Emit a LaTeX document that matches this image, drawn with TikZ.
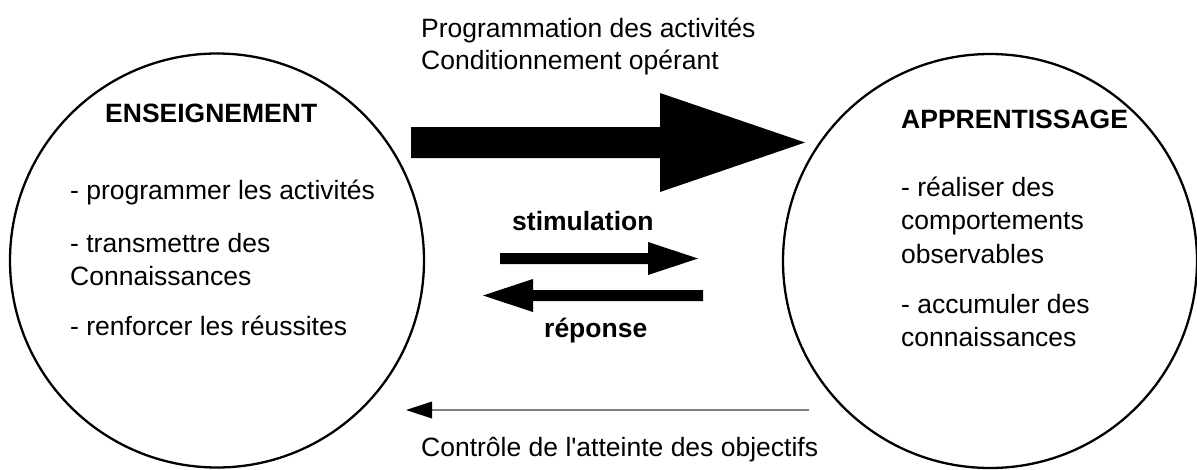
\documentclass[tikz,border=0pt]{standalone}
\usepackage{fontspec}
\setmainfont{Liberation Sans}
\newfontfamily\nomapfont{Liberation Sans}
\begin{document}
\begin{tikzpicture}[x=1pt,y=-1pt,
  txt/.style={anchor=base west, inner sep=0pt, font=\fontsize{26.5}{32}\selectfont},
  btxt/.style={anchor=base west, inner sep=0pt, font=\fontsize{26.5}{32}\selectfont\bfseries},
  ring/.style={draw, circle, line width=2.3pt, minimum size=414pt, inner sep=0pt},
  blockarrow/.style={fill=black},
  ctrl/.style={draw=gray, line width=2.2pt}]
\useasboundingbox (0,0) rectangle (1197,469);
% circles
\node[ring] (ens) at (217,260.5) {};
\node[ring] (app) at (990,261) {};
% left texts
\node[btxt] (ensT) at (105,122) {ENSEIGNEMENT};
\node[txt] (e1) at (70,199) {- programmer les activités};
\node[txt] (e2) at (70,252) {- transmettre des};
\node[txt] (e3) at (70,285) {Connaissances};
\node[txt] (e4) at (70,335) {- renforcer les réussites};
% right texts
\node[btxt] (appT) at (901,128) {APPRENTISSAGE};
\node[txt] (a1) at (901,196) {- réaliser des};
\node[txt] (a2) at (901,229) {comportements};
\node[txt] (a3) at (901,263) {observables};
\node[txt] (a4) at (901,313) {- accumuler des};
\node[txt] (a5) at (901,346) {connaissances};
% top texts
\node[txt] (p1) at (421,37) {Programmation des activités};
\node[txt] (p2) at (421,69) {Conditionnement opérant};
% middle labels
\node[btxt] (stim) at (512,230) {stimulation};
\node[btxt] (rep) at (544,337) {réponse};
% bottom label
\node[txt] (ctl) at (421,456) {Contrôle de l{\nomapfont '}atteinte des objectifs};
% big arrow
\coordinate (bigTail) at (411,142.5);
\coordinate (bigTip) at (805,142.5);
\fill[blockarrow] (bigTail) ++(0,-15.5) -- (660,127) -- (660,93) -- (bigTip) -- (660,192) -- (660,158) -- (411,158) -- cycle;
% stimulation arrow
\coordinate (stTail) at (500,258.5);
\coordinate (stTip) at (698,258.5);
\fill[blockarrow] (stTail) ++(0,-5.5) -- (648,253) -- (648,242) -- (stTip) -- (648,275) -- (648,264) -- (500,264) -- cycle;
% reponse arrow
\coordinate (reTail) at (703,295.5);
\coordinate (reTip) at (483,295.5);
\fill[blockarrow] (reTail) ++(0,-5.5) -- (533,290) -- (533,279) -- (reTip) -- (533,312) -- (533,301) -- (703,301) -- cycle;
% control arrow
\coordinate (ctTail) at (809,410);
\coordinate (ctTip) at (406,410);
\draw[ctrl] (ctTail) -- (430,410);
\fill[black] (ctTip) -- (432,401.5) -- (432,418.5) -- cycle;
\end{tikzpicture}
\end{document}
